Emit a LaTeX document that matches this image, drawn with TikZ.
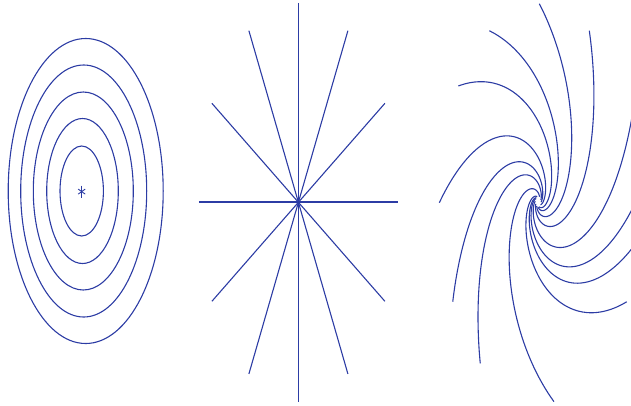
\documentclass[tikz,border=0pt]{standalone}
\usepackage{tikz}
\usetikzlibrary{calc}
\definecolor{orbitblue}{RGB}{44,60,164}
\tikzset{orbit/.style={orbitblue,line width=1.1pt},axisline/.style={orbitblue,line width=1.8pt}}

\begin{document}
\begin{tikzpicture}[x=1pt,y=-1pt]
\path[use as bounding box] (0,0) rectangle (631,405);
\clip (0,0) rectangle (631,405);
\coordinate (centre) at (81.7,191.6);
\coordinate (star) at (298.4,202.3);
\coordinate (sink) at (538.3,201.7);
% closed orbits round the centre
\foreach \dx/\rx/\ry in {0/21.7/45,0.8/35.8/72.5,1.6/50/99,2/63/126,4/77.5/152.5}
  \draw[orbit] ($(centre)+(\dx,-0.6)$) ellipse [x radius=\rx, y radius=\ry];
\draw[orbitblue,line width=.9pt] ($(centre)+(0,-6)$) -- ($(centre)+(0,6)$);
\draw[orbitblue,line width=.9pt] ($(centre)+(-3.5,-2.5)$) -- ($(centre)+(3.5,2.5)$);
\draw[orbitblue,line width=.9pt] ($(centre)+(-3.5,2.5)$) -- ($(centre)+(3.5,-2.5)$);
% star node
\begin{scope}[shift={(star)}]
\draw[axisline] (-99.5,0) -- (99.5,0);
\draw[orbit] (0,-199.5) -- (0,199.5);
\draw[orbit] (49.5,-171.6) -- (-49.5,171.6);
\draw[orbit] (-49.5,-171.6) -- (49.5,171.6);
\draw[orbit] (86.5,-99) -- (-86.5,99);
\draw[orbit] (-86.5,-99) -- (86.5,99);
\end{scope}
% spiral sink
\begin{scope}[shift={(sink)}]
\foreach \te/\se in {89.4/0.99,59.2/0.996,119.8/0.985,144.1/0.987,30/1.13,180.3/0.99,210.3/0.991,234.3/0.995,278.9/1.012,330.5/1.016,-11.9/1.0,0/0.975}
  \draw[orbit] plot[domain=0:3.6,samples=90,smooth,variable=\t]
    ({100*\se*exp(-\t)*cos(\te-60*\t)},{-200*\se*exp(-\t)*sin(\te-60*\t)});
\end{scope}
\end{tikzpicture}
\end{document}
